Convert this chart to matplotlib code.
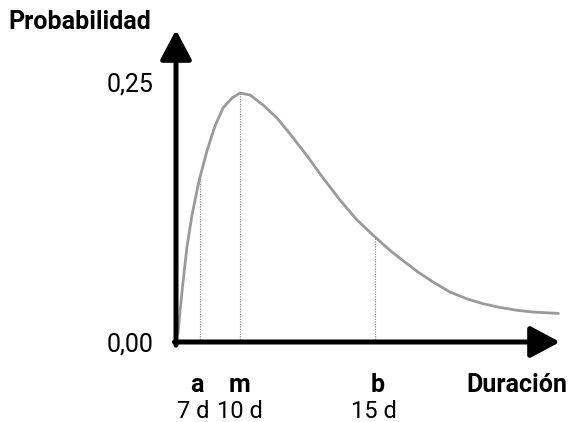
import matplotlib.pyplot as plt

plt.rcParams['font.family'] = ['Roboto', 'DejaVu Sans']

# === Datos (eje x esquemático, no proporcional a los días) ===
curve_x = [0.12, 0.25, 0.44, 0.69, 1.0, 1.44, 1.94, 2.44, 2.94, 3.5, 4.0,
           4.63, 5.44, 6.31, 7.13, 8.19, 9.19, 10.25, 11.31, 12.44, 13.38, 14.0,
           15.06, 16.06, 17.13, 18.19, 19.19, 20.25, 21.31, 22.31, 23.9]
curve_y = [0.008, 0.029, 0.058, 0.092, 0.122, 0.155, 0.184, 0.208,
           0.225, 0.2346, 0.2394, 0.2375, 0.2279, 0.2154, 0.2, 0.179, 0.1577,
           0.1365, 0.1173, 0.101, 0.088, 0.0805, 0.068, 0.0577, 0.048, 0.0415,
           0.0368, 0.0332, 0.0305, 0.0288, 0.0275]

mark_x = [1.5, 4.0, 12.44]
mark_y = [0.158, 0.2394, 0.101]
mark_letters = ['a', 'm', 'b']
mark_days = ['7 d', '10 d', '15 d']
letter_shift = [-0.2, 0.0, 0.15]
day_shift = [-0.45, 0.0, -0.1]

ytick_vals = [0, 0.25]
ytick_labels = ['0,00', '0,25']

fig = plt.figure(figsize=(5.72, 4.22), dpi=100)
ax = fig.add_axes([176 / 572, 80 / 422, 384 / 572, 312 / 422])
ax.set_xlim(0, 24)
ax.set_ylim(0, 0.3)
ax.patch.set_alpha(0)
for s in ax.spines.values():
    s.set_visible(False)

# curva
ax.plot(curve_x, curve_y, color='#9a9a9a', lw=2.0, solid_capstyle='round',
        solid_joinstyle='round')

# líneas punteadas
for x, y in zip(mark_x, mark_y):
    ax.plot([x, x], [0, y], color='#8a8a8a', lw=0.9, ls=(0, (1, 1)))

# ejes con flechas
arrow = dict(arrowstyle='-|>,head_length=0.9,head_width=0.48', lw=3.6,
             color='black', mutation_scale=20, shrinkA=0, shrinkB=0)
ax.annotate('', xy=(0, 0.3), xytext=(0, -0.003), arrowprops=arrow, annotation_clip=False)
ax.annotate('', xy=(24, 0), xytext=(-0.1, 0), arrowprops=arrow, annotation_clip=False)

# etiquetas eje y
ax.set_xticks([])
ax.set_yticks(ytick_vals)
ax.set_yticklabels(ytick_labels, fontsize=18)
ax.tick_params(axis='y', length=0, pad=16)

# etiquetas eje x
for x, lt, d, s1, s2 in zip(mark_x, mark_letters, mark_days, letter_shift, day_shift):
    ax.text(x + s1, -0.0413, lt, ha='center', va='center', fontsize=18,
            fontweight='bold', clip_on=False)
    ax.text(x + s2, -0.0728, d, ha='center', va='baseline', fontsize=17, clip_on=False)
ax.text(24.45, -0.0413, 'Duración', ha='right', va='center', fontsize=18,
        fontweight='bold', clip_on=False)

fig.text(8 / 572, 1 - 22 / 422, 'Probabilidad', ha='left', va='center',
         fontsize=18, fontweight='bold')

fig.savefig('out.png', dpi=100)
